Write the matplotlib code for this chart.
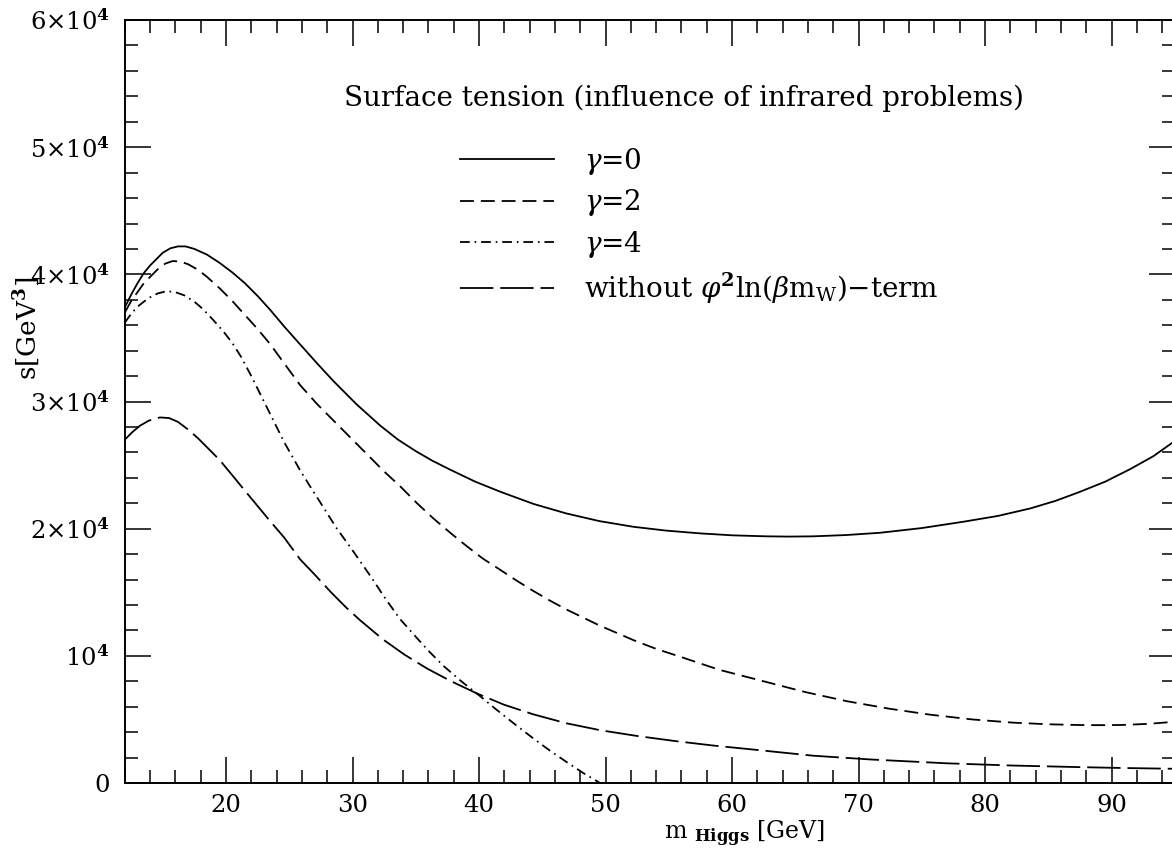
"""Surface tension vs. Higgs mass for several infrared cut-off parameters."""
import matplotlib
matplotlib.use("Agg")
import matplotlib.pyplot as plt
from matplotlib.ticker import MultipleLocator
import numpy as np

plt.rcParams["font.family"] = "DejaVu Serif"
plt.rcParams["mathtext.fontset"] = "dejavuserif"
plt.rcParams["lines.scale_dashes"] = False

# m_Higgs [GeV] and s [10^4 GeV^3] for each curve
m_g0 = [12.0, 12.5, 13.0, 13.5, 14.0, 14.5, 15.0, 15.6, 16.2, 16.8, 17.5, 18.5,
        19.5, 20.5, 21.5, 22.5, 23.5, 24.6, 25.85, 27.2, 28.5, 30.3, 32.2, 33.6,
        35.0, 36.3, 37.7, 39.7, 41.7, 44.3, 46.9, 49.5, 52.2, 54.8, 57.5, 60.0,
        62.7, 64.5, 66.4, 69.0, 71.7, 75.0, 78.3, 81.0, 83.6, 85.6, 87.5, 89.5,
        91.5, 93.3, 95.0]
s_g0 = [3.74, 3.84, 3.93, 4.01, 4.07, 4.12, 4.17, 4.205, 4.22, 4.22, 4.20, 4.155,
        4.09, 4.015, 3.93, 3.83, 3.72, 3.59, 3.45, 3.30, 3.16, 2.98, 2.81, 2.70,
        2.61, 2.535, 2.465, 2.37, 2.29, 2.195, 2.12, 2.06, 2.015, 1.985, 1.963, 1.948,
        1.940, 1.938, 1.940, 1.950, 1.968, 2.005, 2.055, 2.10, 2.16, 2.22, 2.29, 2.37,
        2.47, 2.57, 2.69]

m_g2 = [12.0, 12.5, 13.0, 13.5, 14.0, 14.6, 15.2, 15.8, 16.4, 17.0, 17.8, 18.5,
        19.5, 20.5, 21.5, 22.5, 23.5, 24.6, 25.85, 27.2, 28.5, 29.8, 31.1, 32.5,
        33.8, 35.1, 36.4, 37.7, 39.0, 40.3, 41.7, 43.0, 44.3, 45.6, 46.9, 49.5,
        52.2, 54.0, 56.0, 59.0, 62.5, 65.8, 69.1, 72.4, 75.7, 79.0, 82.2, 85.0,
        87.5, 89.5, 91.0, 93.0, 95.0]
s_g2 = [3.70, 3.79, 3.86, 3.93, 3.98, 4.04, 4.085, 4.105, 4.10, 4.08, 4.035, 3.98,
        3.89, 3.79, 3.68, 3.57, 3.45, 3.30, 3.13, 2.98, 2.85, 2.72, 2.59, 2.45,
        2.33, 2.20, 2.08, 1.97, 1.865, 1.765, 1.675, 1.59, 1.51, 1.435, 1.365, 1.24,
        1.124, 1.055, 0.99, 0.89, 0.80, 0.715, 0.643, 0.585, 0.537, 0.50, 0.475, 0.462,
        0.456, 0.455, 0.457, 0.466, 0.482]

m_g4 = [12.0, 12.5, 13.0, 13.5, 14.0, 14.6, 15.3, 16.0, 16.7, 17.5, 18.2, 19.0,
        19.8, 20.5, 21.2, 22.0, 22.7, 23.5, 24.6, 25.85, 26.6, 27.43, 28.7, 30.07,
        31.4, 32.6, 33.75, 35.0, 36.1, 37.2, 38.6, 40.0, 41.4, 42.8, 44.3, 45.6,
        47.0, 48.3, 49.57]
s_g4 = [3.62, 3.69, 3.745, 3.785, 3.82, 3.85, 3.868, 3.86, 3.835, 3.785, 3.725, 3.64,
        3.55, 3.46, 3.35, 3.20, 3.06, 2.90, 2.68, 2.46, 2.34, 2.21, 2.01, 1.82,
        1.63, 1.45, 1.29, 1.15, 1.03, 0.92, 0.80, 0.69, 0.575, 0.465, 0.35, 0.255,
        0.16, 0.075, 0.0]

m_nolog = [12.0, 12.6, 13.2, 13.9, 14.78, 15.5, 16.2, 17.0, 17.8, 18.6, 19.5, 20.58,
           21.4, 22.4, 23.48, 24.6, 25.85, 27.0, 28.3, 29.5, 30.6, 32.4, 34.1, 35.9,
           37.8, 39.82, 42.0, 44.3, 46.9, 49.6, 52.5, 55.5, 58.5, 62.0, 66.4, 71.0,
           77.0, 82.0, 87.5, 91.0, 95.0]
s_nolog = [2.70, 2.76, 2.81, 2.85, 2.875, 2.87, 2.84, 2.78, 2.71, 2.63, 2.54, 2.41,
           2.31, 2.19, 2.06, 1.93, 1.76, 1.64, 1.50, 1.38, 1.28, 1.13, 1.01, 0.90,
           0.80, 0.705, 0.615, 0.54, 0.47, 0.415, 0.37, 0.33, 0.295, 0.26, 0.215, 0.185,
           0.155, 0.138, 0.125, 0.118, 0.112]

labels = [r"$\gamma$=0", r"$\gamma$=2", r"$\gamma$=4",
          r"without $\varphi^{\mathbf{2}}$ln($\beta$m$_{\mathrm{W}}$)$-$term"]

ytick_vals = [0, 10000, 20000, 30000, 40000, 50000, 60000]
ytick_text = ["0", r"10$^{\mathbf{4}}$", r"2$\times$10$^{\mathbf{4}}$",
              r"3$\times$10$^{\mathbf{4}}$", r"4$\times$10$^{\mathbf{4}}$",
              r"5$\times$10$^{\mathbf{4}}$", r"6$\times$10$^{\mathbf{4}}$"]

fig = plt.figure(figsize=(11.72, 8.49), dpi=100)
ax = fig.add_axes([0.1065, 0.0777, 0.8959, 0.8987])

lw = 1.3
ax.plot(m_g0, np.array(s_g0) * 1e4, color="black", lw=lw, label=labels[0])
ax.plot(m_g2, np.array(s_g2) * 1e4, color="black", lw=lw, dashes=(10, 5),
        label=labels[1])
ax.plot(m_g4, np.array(s_g4) * 1e4, color="black", lw=lw,
        dashes=(7, 3.5, 1.2, 3.5), label=labels[2])
ax.plot(m_nolog, np.array(s_nolog) * 1e4, color="black", lw=lw, dashes=(24, 5),
        label=labels[3])

ax.set_xlim(12, 95)
ax.set_ylim(0, 60000)
ax.xaxis.set_major_locator(MultipleLocator(10))
ax.xaxis.set_minor_locator(MultipleLocator(2))
ax.yaxis.set_minor_locator(MultipleLocator(2000))
ax.set_yticks(ytick_vals, ytick_text)
ax.set_xticks(range(20, 100, 10))

ax.tick_params(which="both", direction="in", top=True, right=True,
               width=1.1, labelsize=17.5, color="black")
ax.tick_params(which="major", length=18.7)
ax.tick_params(which="minor", length=9.4)
ax.tick_params(axis="y", pad=11)
ax.tick_params(axis="x", pad=8)
for sp in ax.spines.values():
    sp.set_linewidth(1.4)

ax.set_xlabel(r"m $_{\mathbf{Higgs}}$ [GeV]", fontsize=17)
ax.xaxis.set_label_coords(0.59, -0.046)
ax.set_ylabel(r"s[GeV$^{\mathbf{3}}$]", fontsize=19)
ax.yaxis.set_label_coords(-0.079, 0.596)

ax.text(0.533, 0.898, "Surface tension (influence of infrared problems)",
        transform=ax.transAxes, ha="center", va="center", fontsize=20)

ax.legend(loc="upper left", bbox_to_anchor=(446 / 1172, 1 - 132 / 849),
          bbox_transform=fig.transFigure, frameon=False, fontsize=20,
          handlelength=3.4, handletextpad=1.05, labelspacing=0.38, borderpad=0)

fig.savefig("out.png", dpi=100)
